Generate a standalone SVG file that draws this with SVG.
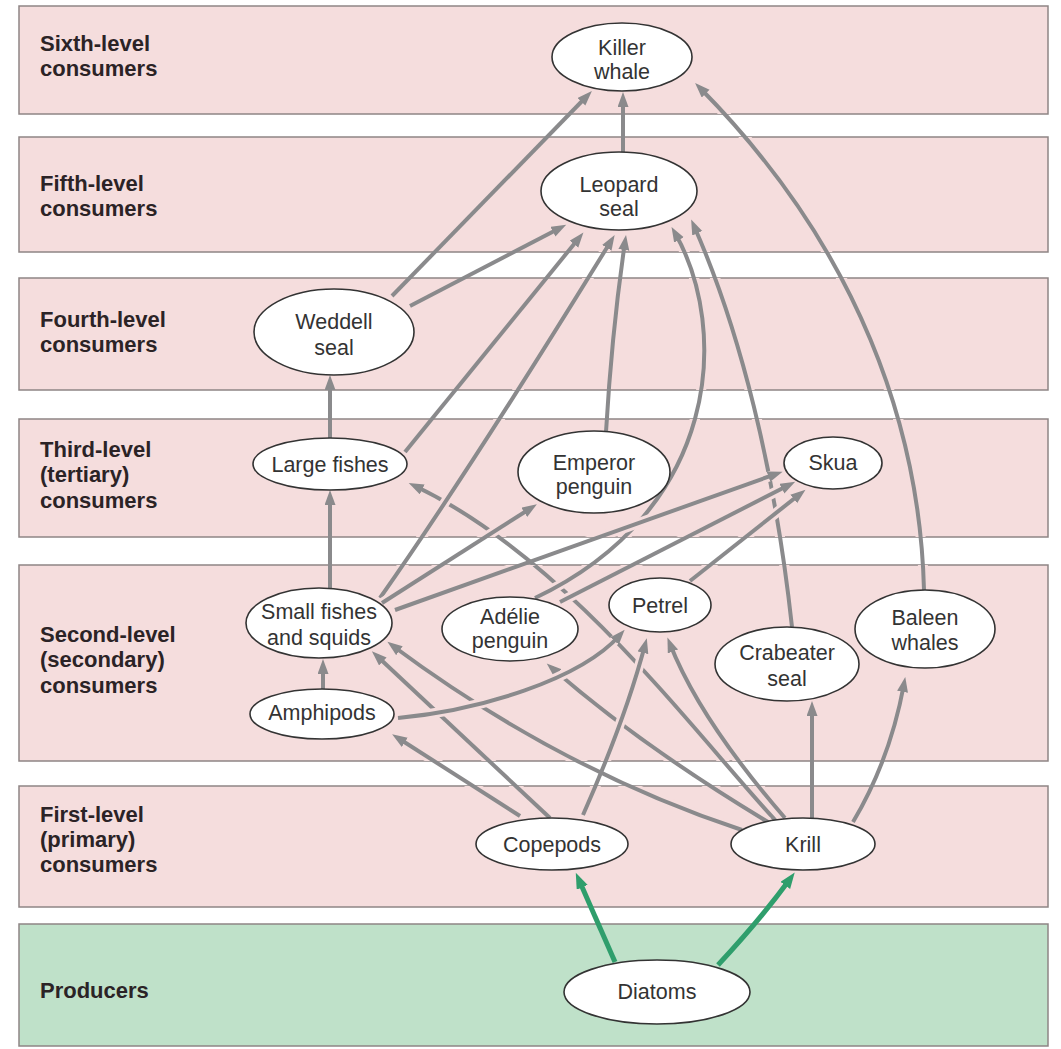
<svg xmlns="http://www.w3.org/2000/svg" width="1061" height="1049" viewBox="0 0 1061 1049">
<style>
.band{fill:#f5dddd;stroke:#8e8585;stroke-width:1.5}
.prod{fill:#bfe1c9;stroke:#8e8585;stroke-width:1.5}
.lbl{font-family:"Liberation Sans",Arial,sans-serif;font-weight:bold;font-size:22px;fill:#2b2326}
.node ellipse{fill:#fff;stroke:#333;stroke-width:1.6}
.node text{font-family:"Liberation Sans",Arial,sans-serif;font-size:21.5px;fill:#333;text-anchor:middle}
.halo{fill:none;stroke:#f5dddd;stroke-width:10}
.ln{fill:none;stroke:#8a8a8c;stroke-width:4;marker-end:url(#ah)}
.gln{fill:none;stroke:#2f9e6c;stroke-width:5;marker-end:url(#gah)}
</style>
<defs>
<marker id="ah" markerUnits="userSpaceOnUse" markerWidth="16" markerHeight="12" refX="8" refY="5.5" orient="auto">
<path d="M0,0 L15,5.5 L0,11 Z" fill="#8a8a8c"/>
</marker>
<marker id="gah" markerUnits="userSpaceOnUse" markerWidth="17" markerHeight="13" refX="8" refY="6" orient="auto">
<path d="M0,0 L16,6 L0,12 Z" fill="#2f9e6c"/>
</marker>
<clipPath id="bands">
<rect x="19" y="6" width="1029" height="108"/>
<rect x="19" y="137" width="1029" height="115"/>
<rect x="19" y="278" width="1029" height="112"/>
<rect x="19" y="419" width="1029" height="118"/>
<rect x="19" y="565" width="1029" height="196"/>
<rect x="19" y="786" width="1029" height="121"/>
</clipPath>
</defs>
<rect width="1061" height="1049" fill="#fff"/>
<g id="levels">
<rect class="band" x="19" y="6" width="1029" height="108"/>
<rect class="band" x="19" y="137" width="1029" height="115"/>
<rect class="band" x="19" y="278" width="1029" height="112"/>
<rect class="band" x="19" y="419" width="1029" height="118"/>
<rect class="band" x="19" y="565" width="1029" height="196"/>
<rect class="band" x="19" y="786" width="1029" height="121"/>
<rect class="prod" x="19" y="924" width="1029" height="122"/>
<text class="lbl" x="40" y="51">Sixth-level</text>
<text class="lbl" x="40" y="76">consumers</text>
<text class="lbl" x="40" y="191">Fifth-level</text>
<text class="lbl" x="40" y="216">consumers</text>
<text class="lbl" x="40" y="327">Fourth-level</text>
<text class="lbl" x="40" y="352">consumers</text>
<text class="lbl" x="40" y="457">Third-level</text>
<text class="lbl" x="40" y="482">(tertiary)</text>
<text class="lbl" x="40" y="508">consumers</text>
<text class="lbl" x="40" y="642">Second-level</text>
<text class="lbl" x="40" y="667">(secondary)</text>
<text class="lbl" x="40" y="693">consumers</text>
<text class="lbl" x="40" y="822">First-level</text>
<text class="lbl" x="40" y="847">(primary)</text>
<text class="lbl" x="40" y="872">consumers</text>
<text class="lbl" x="40" y="998">Producers</text>
</g>
<g id="connectors">
<g clip-path="url(#bands)"><path class="halo" d="M777,822 C700,740 570,560 415,486"/></g>
<path class="ln" d="M777,822 C700,740 570,560 415,486"/>
<g clip-path="url(#bands)"><path class="halo" d="M742,830 Q560,770 393,646"/></g>
<path class="ln" d="M742,830 Q560,770 393,646"/>
<g clip-path="url(#bands)"><path class="halo" d="M550,818 L377,656"/></g>
<path class="ln" d="M550,818 L377,656"/>
<g clip-path="url(#bands)"><path class="halo" d="M520,816 L398,738"/></g>
<path class="ln" d="M520,816 L398,738"/>
<g clip-path="url(#bands)"><path class="halo" d="M768,822 Q640,745 552,668"/></g>
<path class="ln" d="M768,822 Q640,745 552,668"/>
<g clip-path="url(#bands)"><path class="halo" d="M583,815 Q625,720 645,645"/></g>
<path class="ln" d="M583,815 Q625,720 645,645"/>
<g clip-path="url(#bands)"><path class="halo" d="M785,818 Q700,720 670,644"/></g>
<path class="ln" d="M785,818 Q700,720 670,644"/>
<g clip-path="url(#bands)"><path class="halo" d="M398,718 C480,710 580,680 620,635"/></g>
<path class="ln" d="M398,718 C480,710 580,680 620,635"/>
<path class="ln" d="M812,818 L812,708"/>
<path class="ln" d="M853,822 Q890,760 904,684"/>
<g clip-path="url(#bands)"><path class="halo" d="M535,598 C720,510 730,330 675,233"/></g>
<path class="ln" d="M535,598 C720,510 730,330 675,233"/>
<g clip-path="url(#bands)"><path class="halo" d="M792,627 C775,470 740,330 694,226"/></g>
<path class="ln" d="M792,627 C775,470 740,330 694,226"/>
<g clip-path="url(#bands)"><path class="halo" d="M924,590 C920,430 860,250 700,88"/></g>
<path class="ln" d="M924,590 C920,430 860,250 700,88"/>
<g clip-path="url(#bands)"><path class="halo" d="M380,598 Q470,470 611,241"/></g>
<path class="ln" d="M380,598 Q470,470 611,241"/>
<g clip-path="url(#bands)"><path class="halo" d="M382,603 L531,508"/></g>
<path class="ln" d="M382,603 L531,508"/>
<g clip-path="url(#bands)"><path class="halo" d="M560,602 L789,485"/></g>
<path class="ln" d="M560,602 L789,485"/>
<g clip-path="url(#bands)"><path class="halo" d="M395,610 L776,474"/></g>
<path class="ln" d="M395,610 L776,474"/>
<g clip-path="url(#bands)"><path class="halo" d="M690,581 L800,494"/></g>
<path class="ln" d="M690,581 L800,494"/>
<path class="ln" d="M606,432 Q612,330 625,242"/>
<path class="ln" d="M405,452 L579,238"/>
<path class="ln" d="M410,306 L560,228"/>
<path class="ln" d="M392,296 L587,96"/>
<path class="ln" d="M623,152 L623,99"/>
<path class="ln" d="M323,689 L323,666"/>
<path class="ln" d="M330,588 L330,497"/>
<path class="ln" d="M330,438 L330,382"/>
<path class="gln" d="M615,962 L579,880"/>
<path class="gln" d="M718,965 Q760,920 790,879"/>
</g>
<g id="killer-whale" class="node"><ellipse cx="622" cy="57" rx="70" ry="34"/><text x="622" y="55">Killer</text><text x="622" y="79">whale</text></g>
<g id="leopard-seal" class="node"><ellipse cx="619" cy="191" rx="78" ry="39"/><text x="619" y="192">Leopard</text><text x="619" y="216">seal</text></g>
<g id="weddell-seal" class="node"><ellipse cx="334" cy="332" rx="80" ry="43"/><text x="334" y="329">Weddell</text><text x="334" y="355">seal</text></g>
<g id="large-fishes" class="node"><ellipse cx="330" cy="464" rx="77" ry="26"/><text x="330" y="472">Large fishes</text></g>
<g id="emperor-penguin" class="node"><ellipse cx="594" cy="472" rx="76" ry="41"/><text x="594" y="470">Emperor</text><text x="594" y="494">penguin</text></g>
<g id="skua" class="node"><ellipse cx="833" cy="463" rx="49" ry="26"/><text x="833" y="470">Skua</text></g>
<g id="small-fishes" class="node"><ellipse cx="319" cy="623" rx="73" ry="35"/><text x="319" y="619">Small fishes</text><text x="319" y="645">and squids</text></g>
<g id="amphipods" class="node"><ellipse cx="322" cy="714" rx="72" ry="25"/><text x="322" y="720">Amphipods</text></g>
<g id="adelie-penguin" class="node"><ellipse cx="510" cy="629" rx="68" ry="32"/><text x="510" y="624">Adélie</text><text x="510" y="648">penguin</text></g>
<g id="petrel" class="node"><ellipse cx="660" cy="605" rx="51" ry="27"/><text x="660" y="613">Petrel</text></g>
<g id="crabeater-seal" class="node"><ellipse cx="787" cy="664" rx="72" ry="37"/><text x="787" y="660">Crabeater</text><text x="787" y="686">seal</text></g>
<g id="baleen-whales" class="node"><ellipse cx="925" cy="629" rx="70" ry="39"/><text x="925" y="625">Baleen</text><text x="925" y="650">whales</text></g>
<g id="copepods" class="node"><ellipse cx="552" cy="844" rx="76" ry="26"/><text x="552" y="852">Copepods</text></g>
<g id="krill" class="node"><ellipse cx="803" cy="844" rx="72" ry="26"/><text x="803" y="852">Krill</text></g>
<g id="diatoms" class="node"><ellipse cx="657" cy="992" rx="93" ry="32"/><text x="657" y="999">Diatoms</text></g>
</svg>
